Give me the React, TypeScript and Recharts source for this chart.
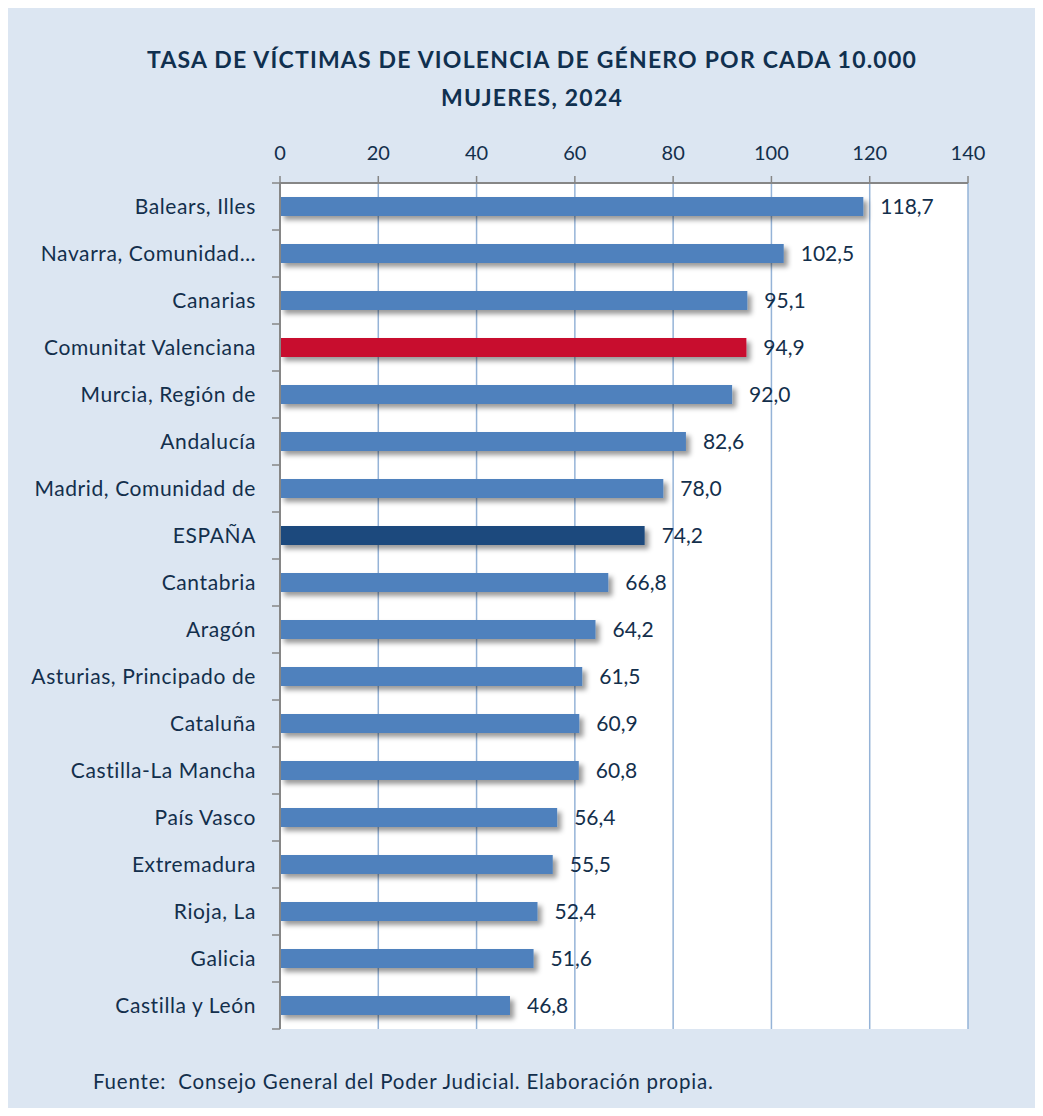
import React from 'react';
import { BarChart, Bar, XAxis, YAxis, CartesianGrid, LabelList } from 'recharts';

const regions: string[] = [
  'Balears, Illes',
  'Navarra, Comunidad…',
  'Canarias',
  'Comunitat Valenciana',
  'Murcia, Región de',
  'Andalucía',
  'Madrid, Comunidad de',
  'ESPAÑA',
  'Cantabria',
  'Aragón',
  'Asturias, Principado de',
  'Cataluña',
  'Castilla-La Mancha',
  'País Vasco',
  'Extremadura',
  'Rioja, La',
  'Galicia',
  'Castilla y León',
];

const rates: number[] = [118.7, 102.5, 95.1, 94.9, 92.0, 82.6, 78.0, 74.2, 66.8, 64.2, 61.5, 60.9, 60.8, 56.4, 55.5, 52.4, 51.6, 46.8];

const xTicks: number[] = [0, 20, 40, 60, 80, 100, 120, 140];

const data = regions.map((name, i) => ({ name, value: rates[i] }));

const TEXT = '#132f4c';
const AXIS = '#868686';
const FONT = 'Lato, "Open Sans", sans-serif';
const BAND = 47; // (1029 - 183) / 18

const barColor = (name: string) => {
  if (name === 'Comunitat Valenciana') return '#c8102e';
  if (name === 'ESPAÑA') return '#1f497d';
  return '#4f81bd';
};

const ShadowBar = (props: any) => {
  const { x, y, width, height, payload } = props;
  if (!width || width <= 0) return null;
  return <rect x={x} y={y} width={width} height={height} fill={barColor(payload.name)} filter="url(#barShadow)" />;
};

const CategoryTick = (props: any) => {
  const { x, y, payload, index } = props;
  const axisX = x + 24;
  return (
    <g>
      <line x1={axisX - 8} x2={axisX} y1={y - BAND / 2} y2={y - BAND / 2} stroke={AXIS} strokeWidth={1.5} />
      {index === regions.length - 1 && (
        <line x1={axisX - 8} x2={axisX} y1={y + BAND / 2} y2={y + BAND / 2} stroke={AXIS} strokeWidth={1.5} />
      )}
      <text
        x={x}
        y={y}
        dy="0.35em"
        textAnchor="end"
        fill={TEXT}
        fontSize={21}
        letterSpacing={0.6}
        fontFamily={FONT}
      >
        {payload.value}
      </text>
    </g>
  );
};

const App = () => {
  return (
    <div style={{ position: 'relative', margin: -8, width: 1043, height: 1116, background: '#fff', overflow: 'hidden' }}>
      <svg width={0} height={0} style={{ position: 'absolute' }}>
        <defs>
          <filter id="barShadow" x="-5%" y="-30%" width="115%" height="180%">
            <feDropShadow dx={4} dy={4} stdDeviation={2.5} floodColor="#000" floodOpacity={0.4} />
          </filter>
        </defs>
      </svg>
      <div style={{ position: 'absolute', left: 4, top: 6, width: 1039, height: 1110, background: '#dce6f2' }} />
      <div
        style={{
          position: 'absolute',
          left: 32,
          top: 40,
          width: 1000,
          textAlign: 'center',
          color: '#10304f',
          fontFamily: FONT,
          fontWeight: 700,
          fontSize: 23,
          letterSpacing: 1.2,
          lineHeight: '38px',
        }}
      >
        TASA DE VÍCTIMAS DE VIOLENCIA DE GÉNERO POR CADA 10.000
        <br />
        MUJERES, 2024
      </div>
      <div style={{ position: 'absolute', left: 0, top: 0 }}>
        <BarChart
          width={1043}
          height={1116}
          data={data}
          layout="vertical"
          margin={{ top: 153, right: 75, bottom: 87, left: 80 }}
          barSize={19}
        >
          <CartesianGrid horizontal={false} vertical={true} stroke="#95b3d7" strokeWidth={1.5} fill="#ffffff" />
          <XAxis
            type="number"
            orientation="top"
            domain={[0, 140]}
            ticks={xTicks}
            height={30}
            axisLine={{ stroke: AXIS, strokeWidth: 2 }}
            tickLine={{ stroke: AXIS, strokeWidth: 1.5 }}
            tickSize={7}
            tickMargin={16}
            tick={{ fill: TEXT, fontSize: 20, fontFamily: FONT }}
            interval={0}
          />
          <YAxis
            type="category"
            dataKey="name"
            width={200}
            axisLine={{ stroke: AXIS, strokeWidth: 2 }}
            tickLine={false}
            tickSize={8}
            tickMargin={16}
            tick={<CategoryTick />}
            interval={0}
          />
          <Bar dataKey="value" isAnimationActive={false} shape={<ShadowBar />}>
            <LabelList
              dataKey="value"
              position="right"
              offset={17}
              formatter={(v: any) => Number(v).toFixed(1).replace('.', ',')}
              style={{ fill: TEXT, fontSize: 21, fontFamily: FONT }}
            />
          </Bar>
        </BarChart>
      </div>
      <div
        style={{
          position: 'absolute',
          left: 93,
          top: 1069,
          color: TEXT,
          fontFamily: FONT,
          fontSize: 20.5,
          letterSpacing: 0.8,
          whiteSpace: 'pre',
        }}
      >
        {'Fuente:  Consejo General del Poder Judicial. Elaboración propia.'}
      </div>
    </div>
  );
};

export default App;
